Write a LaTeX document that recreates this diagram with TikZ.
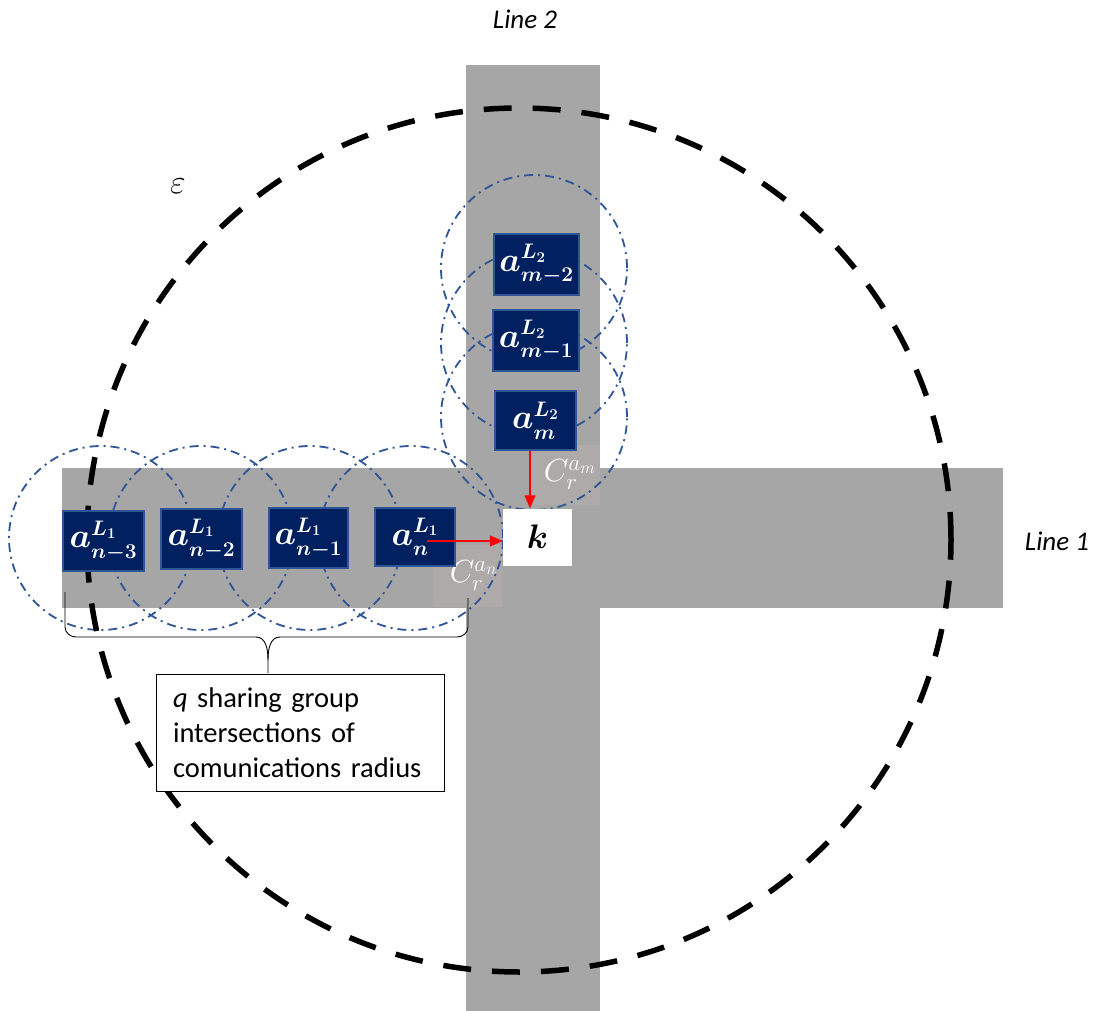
\RequirePackage{fix-cm}
\documentclass[tikz,border=0pt]{standalone}
\usepackage[no-math]{fontspec}
\setmainfont{Carlito}
\usetikzlibrary{arrows.meta}
\DeclareMathSizes{34}{34}{21}{15}
\DeclareMathSizes{32}{32}{23}{17}
\definecolor{road}{HTML}{A6A6A6}
\definecolor{navyfill}{HTML}{002060}
\definecolor{navyedge}{HTML}{2F5597}
\definecolor{ringblue}{HTML}{2F5597}
\definecolor{crfill}{HTML}{AEAAAA}
\definecolor{crtext}{HTML}{FFFFFF}
\begin{document}
\begin{tikzpicture}[x=1pt,y=-1pt,
  agent/.style={draw=navyedge, line width=1.8pt, fill=navyfill, text=white,
    font=\fontsize{34}{36}\selectfont\boldmath, inner sep=0pt},
  crbox/.style={fill=crfill, text=crtext, font=\fontsize{32}{34}\selectfont, inner sep=0pt},
  ring/.style={draw=ringblue, line width=1.8pt, dash pattern=on 9pt off 5pt on 2pt off 5pt},
  bigring/.style={draw=black, line width=5.5pt, dash pattern=on 28pt off 21pt},
  redarrow/.style={draw=red, line width=1.3pt, -{Triangle[length=13pt,width=11pt]}},
  linelabel/.style={font=\fontsize{27}{30}\selectfont\itshape}
]
\useasboundingbox (0,0) rectangle (1095,1011);
% roads
\fill[road] (466,65) rectangle (600,1011);
\fill[road] (62,468) rectangle (1003,608);
% communication radius labels
\node[crbox, minimum width=70pt, minimum height=60pt] (cram) at (565,475) {\hspace*{10pt}\raisebox{-4pt}{$C_r^{a_m}$}};
\node[crbox, minimum width=69pt, minimum height=62pt] (cran) at (467.5,576) {\hspace*{12pt}\raisebox{-8pt}{$C_r^{a_n}$}};
% communication circles
\draw[ring] (101,538) circle[radius=92pt];
\draw[ring] (201,538) circle[radius=92pt];
\draw[ring] (310,538) circle[radius=92pt];
\draw[ring] (411,538) circle[radius=92pt];
\draw[ring] (534,268) circle[radius=93pt];
\draw[ring] (534,343) circle[radius=93pt];
\draw[ring] (534,417) circle[radius=93pt];
% epsilon region
\draw[bigring] (519,540) circle[radius=432pt];
% intersection k
\node[fill=white, minimum width=69pt, minimum height=57pt, inner sep=0pt,
  font=\fontsize{34}{36}\selectfont\boldmath] (k) at (537.5,537) {$k$};
% agents on line 1
\node[agent, minimum width=81pt, minimum height=60pt] (an3) at (103.5,541) {$a^{L_1}_{n-3}$};
\node[agent, minimum width=81pt, minimum height=60pt] (an2) at (201.5,539) {$a^{L_1}_{n-2}$};
\node[agent, minimum width=79pt, minimum height=60pt] (an1) at (308.5,538) {$a^{L_1}_{n-1}$};
\node[agent, minimum width=80pt, minimum height=58pt] (an) at (415,537) {$a^{L_1}_{n}$};
% agents on line 2
\node[agent, minimum width=85pt, minimum height=61pt] (am2) at (536.5,264.5) {$a^{L_2}_{m-2}$};
\node[agent, minimum width=86pt, minimum height=61pt] (am1) at (536,340.5) {$a^{L_2}_{m-1}$};
\node[agent, minimum width=81pt, minimum height=59pt] (am) at (535.5,420.5) {$a^{L_2}_{m}$};
% arrows
\coordinate (amout) at (530,451);
\coordinate (anout) at (427,541);
\draw[redarrow] (amout) -- (amout |- k.north);
\draw[redarrow] (anout) -- (anout -| k.west);
% brace
\draw[line width=0.9pt] (65,592) -- (65,627) to[out=-90,in=180] (76,637) -- (256,637)
  to[out=0,in=90] (268,660) -- (268,673);
\draw[line width=0.9pt] (268,660) to[out=90,in=180] (280,637) -- (457,637)
  to[out=0,in=-90] (468,627) -- (468,598);
% text box
\node[draw=black, line width=0.9pt, fill=white, minimum width=288pt, minimum height=117pt,
  text width=254pt, align=left, inner sep=0pt, font=\fontsize{28.5}{35}\selectfont]
  (qbox) at (300,733) {\textit{q} sharing group\\intersections of\\comunications radius};
% labels
\node[linelabel] (l2) at (525,19) {Line 2};
\node[linelabel] (l1) at (1057,541) {Line 1};
\node[font=\fontsize{34}{36}\selectfont] (eps) at (178,186) {$\varepsilon$};
\end{tikzpicture}
\end{document}
